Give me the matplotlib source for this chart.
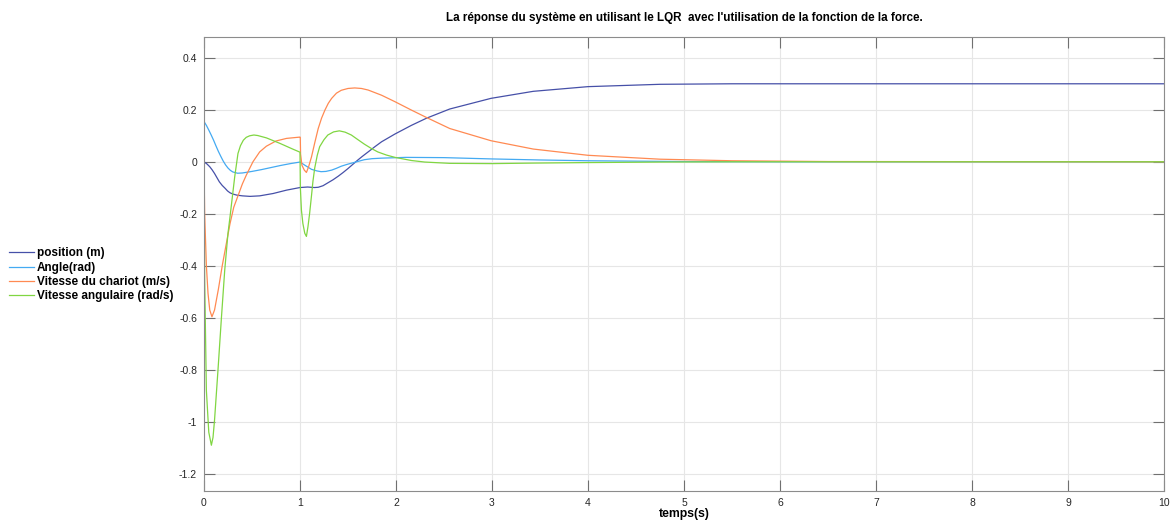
import matplotlib
matplotlib.use("Agg")
import matplotlib.pyplot as plt

plt.rcParams['font.family'] = ['Liberation Sans', 'DejaVu Sans']
plt.rcParams['axes.unicode_minus'] = False

# ---- data ----
t_pos = [0, 0.03, 0.06, 0.085, 0.11, 0.135, 0.16, 0.19, 0.22, 0.245, 0.27, 0.30,
         0.34, 0.40, 0.48, 0.58, 0.72, 0.86, 1.0, 1.08, 1.15, 1.19, 1.24, 1.29,
         1.345, 1.40, 1.45, 1.50, 1.55, 1.60, 1.65, 1.71, 1.78, 1.85, 1.92, 1.99,
         2.16, 2.32, 2.56, 2.99, 3.43, 4.0, 4.75, 5.5, 10]
pos = [0, -0.008, -0.019, -0.031, -0.045, -0.061, -0.077, -0.091, -0.102, -0.112,
       -0.119, -0.124, -0.128, -0.131, -0.133, -0.131, -0.122, -0.109, -0.099,
       -0.097, -0.099, -0.098, -0.092, -0.081, -0.069, -0.055, -0.041, -0.026,
       -0.010, 0.006, 0.021, 0.038, 0.058, 0.077, 0.092, 0.107, 0.140, 0.168,
       0.203, 0.244, 0.271, 0.289, 0.298, 0.300, 0.300]

t_ang = [0, 0.025, 0.05, 0.075, 0.10, 0.125, 0.15, 0.175, 0.20, 0.225, 0.25, 0.275,
         0.30, 0.35, 0.40, 0.50, 0.60, 0.70, 0.80, 0.90, 1.00, 1.05, 1.12, 1.175,
         1.22, 1.27, 1.33, 1.38, 1.43, 1.49, 1.55, 1.61, 1.67, 1.75, 1.85, 2.1,
         2.5, 3.0, 3.5, 4.0, 5.0, 6.0, 10]
ang = [0.155, 0.140, 0.122, 0.103, 0.083, 0.061, 0.040, 0.021, 0.003, -0.012,
       -0.024, -0.033, -0.039, -0.044, -0.043, -0.037, -0.030, -0.022, -0.014,
       -0.007, -0.001, -0.013, -0.029, -0.035, -0.038, -0.037, -0.032, -0.025,
       -0.017, -0.010, -0.004, 0.002, 0.008, 0.012, 0.014, 0.017, 0.016, 0.011,
       0.007, 0.004, 0.001, 0.0, 0.0]

t_vel = [0, 0.007, 0.025, 0.042, 0.06, 0.083, 0.11, 0.15, 0.19, 0.23, 0.27, 0.31,
         0.35, 0.40, 0.44, 0.51, 0.58, 0.65, 0.75, 0.86, 1.0, 1.003, 1.006, 1.02,
         1.045, 1.067, 1.09, 1.12, 1.155, 1.19, 1.225, 1.26, 1.295, 1.33, 1.38,
         1.43, 1.50, 1.57, 1.64, 1.71, 1.85, 1.99, 2.16, 2.32, 2.56, 2.99, 3.43,
         4.0, 4.75, 5.5, 6.5, 10]
vel = [0, -0.2, -0.40, -0.506, -0.57, -0.596, -0.57, -0.49, -0.40, -0.32, -0.24,
       -0.175, -0.135, -0.085, -0.052, 0.0, 0.038, 0.060, 0.080, 0.090, 0.095,
       0.094, 0.03, -0.013, -0.032, -0.041, -0.019, 0.019, 0.075, 0.128, 0.168,
       0.199, 0.225, 0.244, 0.264, 0.275, 0.282, 0.284, 0.282, 0.276, 0.256,
       0.231, 0.199, 0.170, 0.128, 0.081, 0.049, 0.025, 0.010, 0.004, 0.001, 0.0]

t_om = [0, 0.007, 0.025, 0.05, 0.077, 0.094, 0.11, 0.146, 0.18, 0.216, 0.25, 0.27,
        0.32, 0.354, 0.38, 0.41, 0.44, 0.476, 0.52, 0.56, 0.65, 0.79, 0.93, 1.0,
        1.004, 1.015, 1.03, 1.05, 1.067, 1.083, 1.10, 1.12, 1.135, 1.153, 1.18,
        1.205, 1.25, 1.29, 1.35, 1.41, 1.47, 1.535, 1.60, 1.67, 1.74, 1.81, 1.9,
        1.99, 2.16, 2.3, 2.56, 3.0, 3.43, 4.0, 4.75, 5.5, 10]
om = [0, -0.45, -0.88, -1.04, -1.09, -1.06, -0.993, -0.80, -0.609, -0.417, -0.275,
      -0.215, -0.058, 0.032, 0.062, 0.083, 0.094, 0.100, 0.103, 0.101, 0.092,
      0.071, 0.048, 0.037, -0.10, -0.186, -0.237, -0.275, -0.287, -0.25, -0.20,
      -0.13, -0.075, -0.025, 0.025, 0.058, 0.085, 0.103, 0.115, 0.119, 0.114,
      0.103, 0.086, 0.068, 0.052, 0.038, 0.026, 0.017, 0.005, -0.001, -0.006,
      -0.007, -0.005, -0.003, -0.001, 0.0, 0.0]

labels = ['position (m)', 'Angle(rad)', 'Vitesse du chariot (m/s)',
          'Vitesse angulaire (rad/s)']
colors = ['#4650A8', '#44AAF2', '#FF8A52', '#80D642']

x_ticks = list(range(0, 11))
y_ticks = [0.4, 0.2, 0, -0.2, -0.4, -0.6, -0.8, -1, -1.2]
y_tick_labels = ['0.4', '0.2', '0', '-0.2', '-0.4', '-0.6', '-0.8', '-1', '-1.2']
title = "La réponse du système en utilisant le LQR  avec l'utilisation de la fonction de la force."

# ---- figure ----
fig = plt.figure(figsize=(11.73, 5.23), dpi=100)
ax = fig.add_axes([0.1739, 0.0612, 0.8184, 0.8671])

series = [(t_pos, pos), (t_ang, ang), (t_vel, vel), (t_om, om)]
lines = []
for (tt, yy), c, lab in zip(series, colors, labels):
    ln, = ax.plot(tt, yy, color=c, lw=0.9, label=lab)
    lines.append(ln)

ax.set_xlim(0, 10)
ax.set_ylim(-1.266, 0.478)
ax.set_xticks(x_ticks)
ax.set_xticklabels([str(v) for v in x_ticks])
ax.set_yticks(y_ticks)
ax.set_yticklabels(y_tick_labels)
ax.grid(True, color='#E6E6E6', lw=0.8)
ax.set_axisbelow(True)
ax.tick_params(direction='in', length=8, width=0.8, color='#707070',
               labelsize=7.5, labelcolor='#262626', top=True, right=True, pad=5)
for s in ax.spines.values():
    s.set_color('#8C8C8C')
    s.set_linewidth(0.8)

ax.set_title(title, fontsize=8.4, fontweight='bold', pad=12)
ax.set_xlabel('temps(s)', fontsize=8.8, fontweight='bold', labelpad=0)

fig.legend(handles=lines, labels=labels, loc='upper left',
           bbox_to_anchor=(0.004, 0.536), frameon=False,
           prop={'weight': 'bold', 'size': 8.5}, handlelength=2.1,
           handletextpad=0.2, labelspacing=0.2, borderaxespad=0)

fig.savefig('out.png', dpi=100)
